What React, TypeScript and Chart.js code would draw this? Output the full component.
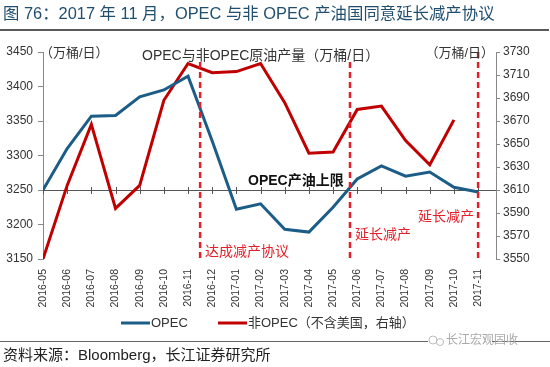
import React, { useEffect, useRef } from 'react';
import { Chart, registerables } from 'chart.js';

Chart.register(...registerables);

const months = [
  '2016-05', '2016-06', '2016-07', '2016-08', '2016-09', '2016-10', '2016-11', '2016-12',
  '2017-01', '2017-02', '2017-03', '2017-04', '2017-05', '2017-06', '2017-07', '2017-08',
  '2017-09', '2017-10', '2017-11',
];
const opec = [3250, 3310, 3357, 3358, 3385, 3395, 3415, 3321, 3222, 3230, 3193, 3189, 3225, 3266, 3285, 3270, 3276, 3254, 3247];
const nonOpec = [3550, 3614, 3667, 3594, 3614, 3688, 3720, 3712, 3713, 3720, 3686, 3642, 3643, 3680, 3683, 3653, 3632, 3671, null];
const leftRange = [3150, 3450];
const leftStep = 50;
const rightRange = [3550, 3730];
const rightStep = 20;
const capValue = 3250;
const dashedAt = [6.5, 12.7, 18];
const dashedLabels = [
  { text: '达成减产协议', at: 6.5, value: 3160 },
  { text: '延长减产', at: 12.7, value: 3185 },
  { text: '延长减产', at: 18, value: 3210 },
];

const BLUE = '#1C5D87';
const RED = '#C00000';
const ANN_RED = '#E2202B';
const TITLE_COLOR = '#1F4E6E';
const CJK = '"Liberation Sans", "Noto Sans CJK SC", sans-serif';

const decorPlugin = {
  id: 'decor',
  beforeDatasetsDraw(chart: any) {
    const { ctx, scales } = chart;
    const x = scales.x;
    const y = scales.y;
    const yc = y.getPixelForValue(capValue);
    ctx.save();
    ctx.strokeStyle = '#555';
    ctx.lineWidth = 1;
    ctx.beginPath();
    ctx.moveTo(x.left, yc + 0.5);
    ctx.lineTo(x.right, yc + 0.5);
    for (let i = 0; i < months.length; i++) {
      const px = Math.round(x.getPixelForValue(i)) + 0.5;
      ctx.moveTo(px, yc - 3);
      ctx.lineTo(px, yc + 4);
    }
    ctx.stroke();
    ctx.restore();
  },
  afterDatasetsDraw(chart: any) {
    const { ctx, scales } = chart;
    const x = scales.x;
    const y = scales.y;
    ctx.save();
    ctx.strokeStyle = ANN_RED;
    ctx.lineWidth = 2.5;
    ctx.setLineDash([6, 4]);
    dashedAt.forEach((d, i) => {
      const px = x.getPixelForValue(d);
      ctx.beginPath();
      ctx.moveTo(px, i === 2 ? y.top : y.top + 10);
      ctx.lineTo(px, y.bottom);
      ctx.stroke();
    });
    ctx.setLineDash([]);

    ctx.textBaseline = 'middle';
    ctx.fillStyle = ANN_RED;
    ctx.font = `14px ${CJK}`;
    dashedLabels.forEach((l) => {
      ctx.textAlign = l.at >= 18 ? 'right' : 'left';
      const px = x.getPixelForValue(l.at);
      ctx.fillText(l.text, l.at >= 18 ? px - 4 : px + 5, y.getPixelForValue(l.value));
    });

    ctx.fillStyle = '#111';
    ctx.font = `bold 14px ${CJK}`;
    ctx.textAlign = 'left';
    ctx.fillText('OPEC产油上限', 248, y.getPixelForValue(capValue) - 9);

    ctx.fillStyle = '#333';
    ctx.font = `14px ${CJK}`;
    ctx.fillText('OPEC与非OPEC原油产量（万桶/日）', 142, 56);
    ctx.font = `13px ${CJK}`;
    ctx.fillText('（万桶/日）', 40, 53);
    ctx.textAlign = 'right';
    ctx.fillText('（万桶/日）', 494, 53);
    ctx.restore();
  },
  afterDraw(chart: any) {
    const { ctx } = chart;
    ctx.save();
    ctx.fillStyle = TITLE_COLOR;
    ctx.font = `16.4px ${CJK}`;
    ctx.textBaseline = 'middle';
    ctx.textAlign = 'left';
    ctx.fillText('图 76：2017 年 11 月，OPEC 与非 OPEC 产油国同意延长减产协议', 3, 14);
    ctx.strokeStyle = '#222';
    ctx.lineWidth = 1.5;
    ctx.beginPath();
    ctx.moveTo(0, 30);
    ctx.lineTo(549, 30);
    ctx.stroke();

    ctx.lineWidth = 3;
    ctx.strokeStyle = BLUE;
    ctx.beginPath();
    ctx.moveTo(121, 323);
    ctx.lineTo(150, 323);
    ctx.stroke();
    ctx.strokeStyle = RED;
    ctx.beginPath();
    ctx.moveTo(218, 323);
    ctx.lineTo(247, 323);
    ctx.stroke();
    ctx.fillStyle = '#333';
    ctx.font = `13px ${CJK}`;
    ctx.fillText('OPEC', 151, 323);
    ctx.fillText('非OPEC（不含美国，右轴）', 248, 323);

    ctx.strokeStyle = '#666';
    ctx.lineWidth = 1;
    ctx.beginPath();
    ctx.moveTo(0, 341.5);
    ctx.lineTo(428, 341.5);
    ctx.moveTo(492, 341.5);
    ctx.lineTo(550, 341.5);
    ctx.stroke();
    ctx.fillStyle = '#aaa';
    ctx.font = `12px ${CJK}`;
    ctx.fillText('长江宏观固收', 446, 341);
    ctx.strokeStyle = '#bbb';
    ctx.beginPath();
    ctx.arc(433, 340, 4, 0, Math.PI * 2);
    ctx.stroke();
    ctx.beginPath();
    ctx.arc(440, 342, 3.5, 0, Math.PI * 2);
    ctx.stroke();

    ctx.fillStyle = '#222';
    ctx.font = `15px ${CJK}`;
    ctx.fillText('资料来源：Bloomberg，长江证券研究所', 3, 356);
    ctx.restore();
  },
};

export default function App() {
  const ref = useRef<HTMLCanvasElement | null>(null);
  useEffect(() => {
    if (!ref.current) return;
    const tickFont = { family: '"Liberation Sans", Arial, sans-serif', size: 12 };
    const chart = new Chart(ref.current, {
      type: 'line',
      data: {
        datasets: [
          {
            label: 'OPEC',
            data: opec.map((v, i) => ({ x: i, y: v })),
            borderColor: BLUE,
            borderWidth: 3,
            pointRadius: 0,
            yAxisID: 'y',
            tension: 0,
          },
          {
            label: '非OPEC（不含美国，右轴）',
            data: nonOpec.map((v, i) => ({ x: i, y: v as any })),
            borderColor: RED,
            borderWidth: 3,
            pointRadius: 0,
            yAxisID: 'y1',
            tension: 0,
          },
        ],
      },
      options: {
        responsive: false,
        animation: false,
        devicePixelRatio: 1,
        layout: { padding: { top: 52, left: 0, right: 0, bottom: 0 } },
        plugins: { legend: { display: false }, tooltip: { enabled: false } },
        scales: {
          x: {
            type: 'linear',
            min: 0,
            max: 18.74,
            afterBuildTicks: (s: any) => {
              s.ticks = months.map((_, i) => ({ value: i }));
            },
            ticks: {
              autoSkip: false,
              minRotation: 90,
              maxRotation: 90,
              padding: 2,
              color: '#333',
              font: { family: '"Liberation Sans", Arial, sans-serif', size: 10.5 },
              callback: (v: any) => months[Math.round(v)] ?? '',
            },
            grid: { display: false },
            border: { display: false },
            afterFit: (s: any) => {
              s.height = 108;
            },
          },
          y: {
            position: 'left',
            min: leftRange[0],
            max: leftRange[1],
            ticks: { stepSize: leftStep, color: '#333', font: tickFont, padding: 5, callback: (v: any) => String(v) },
            grid: { drawOnChartArea: false, tickLength: 5, color: '#888' },
            border: { color: '#888' },
            afterFit: (s: any) => {
              s.width = 43;
            },
          },
          y1: {
            position: 'right',
            min: rightRange[0],
            max: rightRange[1],
            ticks: { stepSize: rightStep, color: '#333', font: tickFont, padding: 3, callback: (v: any) => String(v) },
            grid: { drawOnChartArea: false, tickLength: 4, color: '#888' },
            border: { color: '#888' },
            afterFit: (s: any) => {
              s.width = 54;
            },
          },
        },
      },
      plugins: [decorPlugin],
    });
    return () => chart.destroy();
  }, []);
  return (
    <div style={{ position: 'absolute', left: 0, top: 0, width: 550, height: 367, background: '#fff' }}>
      <canvas ref={ref} width={550} height={367} style={{ display: 'block' }} />
    </div>
  );
}
